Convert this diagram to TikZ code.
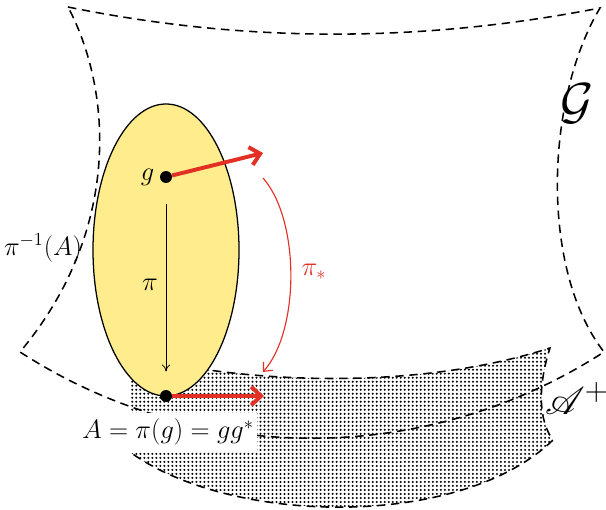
\documentclass[tikz,border=0pt]{standalone}
\usepackage{amsmath,amssymb}
\usepackage{mathrsfs}
\usetikzlibrary{arrows.meta,patterns}
\definecolor{vecred}{RGB}{226,48,36}
\definecolor{fibreyellow}{RGB}{255,236,140}
\pgfdeclarepatternformonly{fine dots}{\pgfqpoint{-1pt}{-1pt}}{\pgfqpoint{1pt}{1pt}}{\pgfqpoint{2.85pt}{2.85pt}}{\pgfpathcircle{\pgfpointorigin}{0.8pt}\pgfusepath{fill}}
\tikzset{
  pdot/.style={circle,fill=black,inner sep=0pt,minimum size=8.5pt},
  bdry/.style={line width=1.1pt,dash pattern=on 6pt off 4pt},
  tvec/.style={vecred,line width=2.8pt,-{Straight Barb[length=7pt,width=13pt]}},
  lbl/.style={scale=1.09},
}

\begin{document}
\begin{tikzpicture}[x=0.025cm,y=0.025cm,font=\LARGE]
\useasboundingbox (0,0) rectangle (606,510);
% the group G
\draw[bdry] (68,503) .. controls (245,467) and (420,467) .. (600,502) .. controls (545,410) and (540,240) .. (604,158) .. controls (426,43) and (198,43) .. (20,158) .. controls (122,280) and (112,420) .. (68,503);
% the cone A^+
\fill[pattern=fine dots] (130,155) .. controls (250,125) and (420,120) .. (550,162) .. controls (538,125) and (538,90) .. (553,70) .. controls (460,-20) and (230,-15) .. (130,58) -- cycle;
\draw[bdry] (130,155) .. controls (250,125) and (420,120) .. (550,162) .. controls (538,125) and (538,90) .. (553,70) .. controls (460,-20) and (230,-15) .. (130,58);
% the fibre over A
\draw[line width=0.9pt,fill=fibreyellow] (166,260) ellipse (73 and 146);
\node[pdot] (g) at (166,333) {};
\node[pdot] (A) at (166,114) {};
\coordinate (gv) at (263,357);
\coordinate (Av) at (264,114);
\draw[tvec] (g) -- (gv);
\draw[tvec] (A) -- (Av);
\draw[line width=0.6pt,-{To[length=5pt,width=6pt]},shorten <=15pt,shorten >=13pt] (g) -- (A);
\coordinate (ps) at (263,332);
\coordinate (pe) at (263,138);
\draw[vecred,line width=0.8pt,-{Straight Barb[length=5pt,width=9pt]}] (ps) .. controls (300,290) and (300,180) .. (pe);
% labels
\node[lbl,left] at (g.west) {$g$};
\node[lbl] at (150,225) {$\pi$};
\node[lbl,vecred] at (314,238) {$\pi_*$};
\node[lbl] at (43,262) {$\pi^{-1}(A)$};
\node[lbl,fill=white,inner xsep=2pt,inner ysep=4pt] at (168,78) {$A=\pi(g)=gg^*$};
\node[scale=1.45] at (577,406) {\Huge$\mathcal{G}$};
\node[scale=1.1] at (577,112) {\Huge$\mathscr{A}^+$};
\end{tikzpicture}
\end{document}
